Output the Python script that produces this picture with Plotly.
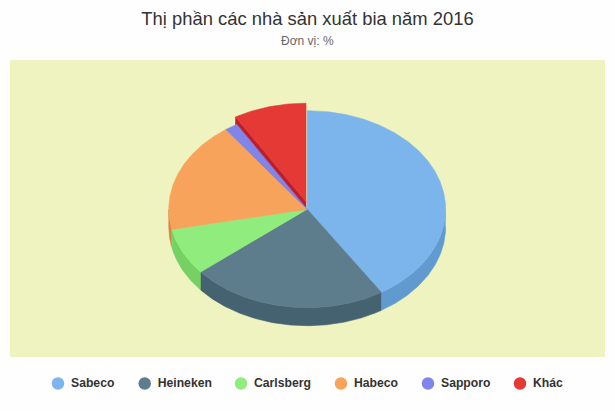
import numpy as np
import plotly.graph_objects as go

# Market share of beer makers 2016
brands = ["Sabeco", "Heineken", "Carlsberg", "Habeco", "Sapporo", "Khác"]
shares = [41.0, 23.0, 7.7, 18.3, 1.5, 8.5]

top_colors = ["#7CB5EC", "#5E7D8C", "#90ED7D", "#F7A35C", "#8085E9", "#E53935"]
side_colors = ["#619ACF", "#446270", "#75D262", "#D88542", "#6569CC", "#BE1E2A"]

# pie geometry in page pixels
cx, cy = 307.2, 209.2
rx, ry = 138.4, 98.5
depth = 18
pull = {5: (-1.2, -7.5)}  # exploded slice

legend_x = [58, 144.7, 241, 341, 428, 520]
legend_y = 383.5


def arc(a0, a1, dx=0, dy=0):
    # angles in degrees, clockwise from the top
    t = np.radians(np.linspace(a0, a1, max(int(abs(a1 - a0)) * 2, 2)))
    return cx + dx + rx * np.sin(t), cy + dy - ry * np.cos(t)


fig = go.Figure()


def add_poly(x, y, color, name):
    fig.add_trace(go.Scatter(
        x=x, y=y, mode="lines", fill="toself", fillcolor=color,
        line=dict(color=color, width=0.6), name=name, hoverinfo="name",
        showlegend=False,
    ))


ends = np.cumsum(shares) / np.sum(shares) * 360
starts = np.concatenate([[0], ends[:-1]])

# outer walls, only the front half of the rim shows
for i, brand in enumerate(brands):
    a0, a1 = max(starts[i], 90), min(ends[i], 270)
    if a1 <= a0:
        continue
    dx, dy = pull.get(i, (0, 0))
    ax, ay = arc(a0, a1, dx, dy)
    add_poly(np.concatenate([ax, ax[::-1]]),
             np.concatenate([ay, ay[::-1] + depth]), side_colors[i], brand)

# cut wall of the exploded slice, partly hidden by the faces drawn after it
for i in pull:
    dx, dy = pull[i]
    ax, ay = arc(starts[i], starts[i], dx, dy)
    px, py = cx + dx, cy + dy
    add_poly([ax[0], px, px, ax[0], ax[0]],
             [ay[0], py, py + depth, ay[0] + depth, ay[0]],
             side_colors[i], brands[i])

# top faces, exploded slice last
for i in sorted(range(len(brands)), key=lambda k: k in pull):
    dx, dy = pull.get(i, (0, 0))
    ax, ay = arc(starts[i], ends[i], dx, dy)
    add_poly(np.concatenate([[cx + dx], ax, [cx + dx]]),
             np.concatenate([[cy + dy], ay, [cy + dy]]), top_colors[i], brands[i])

# legend row, dots and labels apart so the gap can be set
for i, brand in enumerate(brands):
    fig.add_trace(go.Scatter(
        x=[legend_x[i]], y=[legend_y], mode="markers",
        marker=dict(size=12.5, color=top_colors[i]),
        hoverinfo="skip", showlegend=False, cliponaxis=False,
    ))
    fig.add_trace(go.Scatter(
        x=[legend_x[i] + 13], y=[legend_y], mode="text",
        text=["<b>" + brand + "</b>"], textposition="middle right",
        textfont=dict(size=12.2, color="#333333", family="Liberation Sans"),
        hoverinfo="skip", showlegend=False, cliponaxis=False,
    ))

fig.update_layout(
    width=615,
    height=411,
    margin=dict(l=0, r=0, t=0, b=0),
    paper_bgcolor="#FEFEFE",
    plot_bgcolor="rgba(0,0,0,0)",
    font=dict(family="Liberation Sans", color="#333333"),
    title=dict(
        text="Thị phần các nhà sản xuất bia năm 2016",
        font=dict(size=18.4, color="#333333"),
        x=0.5, xanchor="center", y=0.955, yanchor="middle",
    ),
    xaxis=dict(range=[0, 615], visible=False, fixedrange=True),
    yaxis=dict(range=[411, 0], visible=False, fixedrange=True),
    shapes=[dict(type="rect", layer="below", x0=10, x1=605, y0=60, y1=357,
                 fillcolor="#EFF3C0", line=dict(width=0))],
    annotations=[dict(text="Đơn vị: %", x=307, y=41, xref="x", yref="y",
                      showarrow=False, font=dict(size=12, color="#666666"))],
)

# the page's default body margin would push the chart off the window
fig.write_html("out.html", config=dict(displayModeBar=False),
               post_script="document.body.style.margin = '0';")
